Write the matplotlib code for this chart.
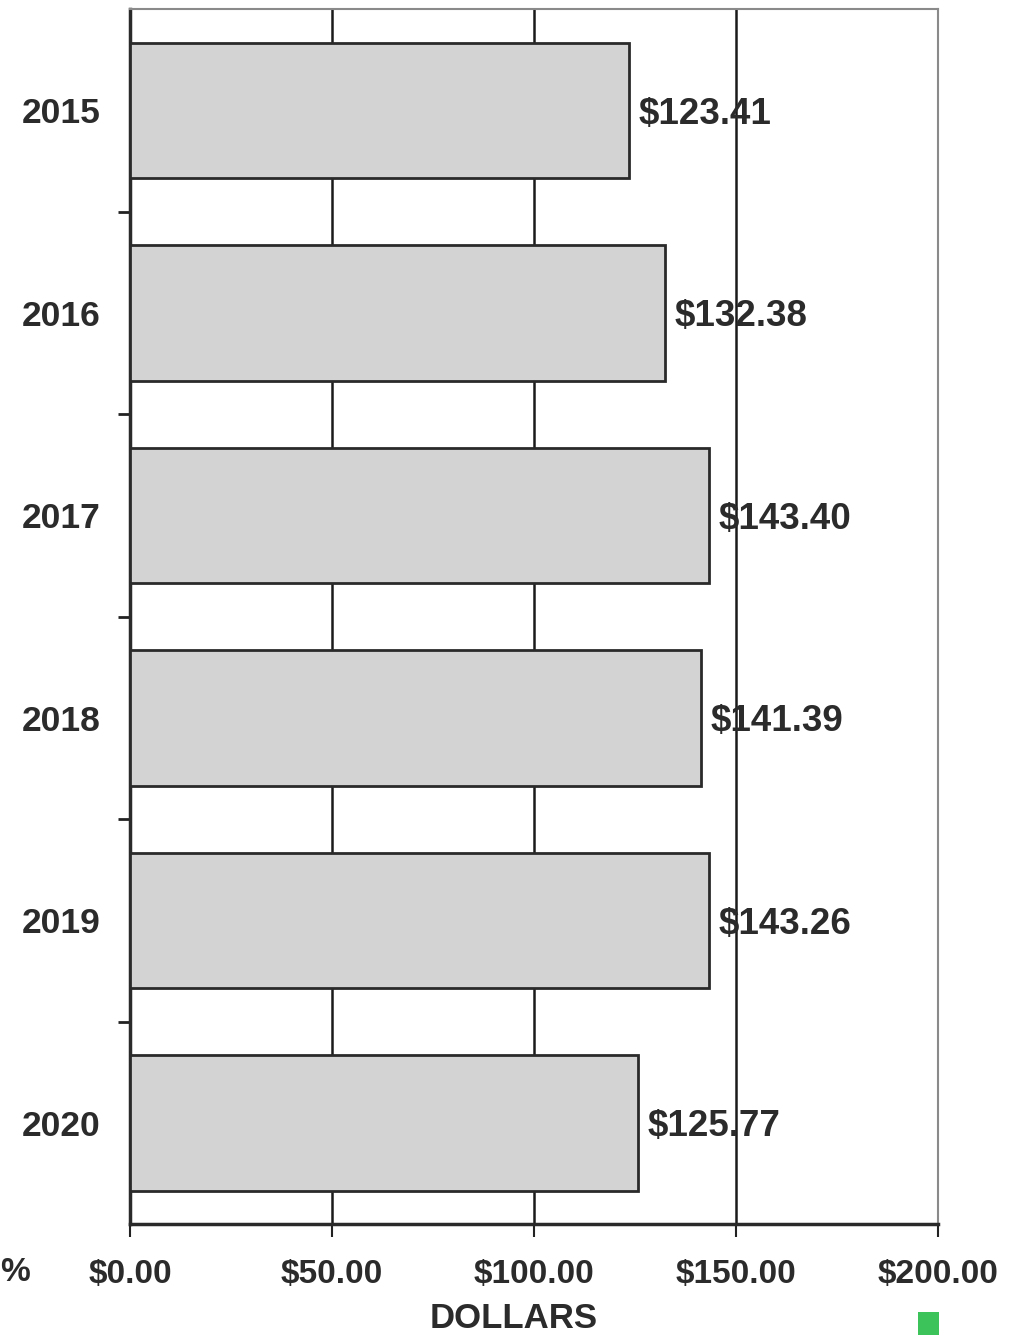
import matplotlib.pyplot as plt
from matplotlib.patches import Rectangle
from matplotlib.ticker import FixedLocator

years = ['2015', '2016', '2017', '2018', '2019', '2020']
dollars = [123.41, 132.38, 143.40, 141.39, 143.26, 125.77]
xticks = [0, 50, 100, 150, 200]

plt.rcParams['font.family'] = ['Liberation Sans', 'DejaVu Sans']
plt.rcParams['font.weight'] = 'bold'
txt = '#2b2b2b'

fig = plt.figure(figsize=(10.21, 13.35), dpi=100)
ax = fig.add_axes([0.1273, 0.0831, 0.7914, 0.910])

pos = list(range(len(years)))
ax.barh(pos, dollars, height=0.67, color='#d2d3d2', edgecolor='#2a2a2a',
        linewidth=2, zorder=3)
for p, v in zip(pos, dollars):
    ax.annotate(f'${v:.2f}', (v, p), xytext=(7, 0), textcoords='offset points',
                va='center_baseline', ha='left', fontsize=26.5, fontweight='bold',
                color=txt, zorder=4)

ax.set_xlim(0, 200)
ax.set_ylim(len(years) - 0.5, -0.5)
ax.set_xticks(xticks)
ax.set_xticklabels([f'${t:.2f}' for t in xticks])
ax.set_yticks(pos)
ax.set_yticklabels(years)
ax.yaxis.set_minor_locator(FixedLocator([p + 0.5 for p in pos[:-1]]))
ax.tick_params(axis='y', which='major', length=0, pad=21, labelsize=25.5,
               labelcolor=txt)
ax.tick_params(axis='y', which='minor', length=9, width=2, color='#222222')
ax.tick_params(axis='x', length=9, width=1.5, pad=16, labelsize=24,
               labelcolor=txt, color='#222222')
ax.set_xlabel('DOLLARS', fontsize=25, fontweight='bold', color=txt)
ax.xaxis.set_label_coords(0.475, -0.064)

ax.grid(axis='x', color='#1a1a1a', linewidth=1.8, zorder=0)
ax.set_axisbelow(True)
for s in ['left', 'bottom']:
    ax.spines[s].set_linewidth(2.5)
    ax.spines[s].set_color('#2a2a2a')
for s in ['top', 'right']:
    ax.spines[s].set_linewidth(1.5)
    ax.spines[s].set_color('#8a8a8a')

fig.text(0.0, 0.047, '%', fontsize=24, fontweight='bold', color=txt,
         ha='left', va='center')
fig.patches.append(Rectangle((0.899, 0.0), 0.021, 0.017, transform=fig.transFigure,
                             facecolor='#3cc45a', edgecolor='none', figure=fig))

fig.savefig('out.png', dpi=100)
